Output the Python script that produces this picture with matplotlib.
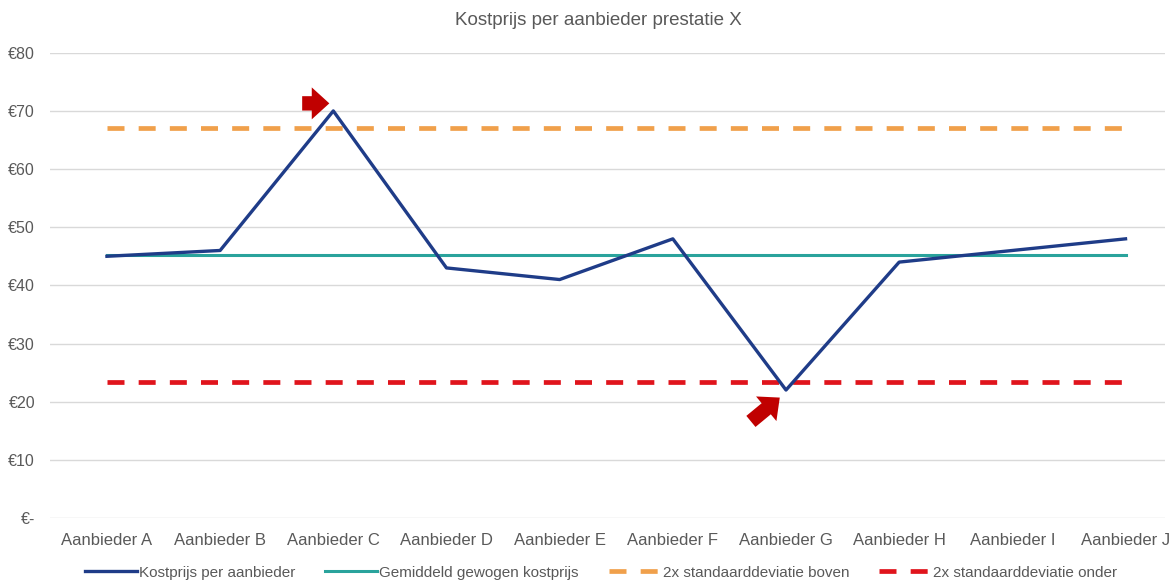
import numpy as np
import matplotlib.pyplot as plt
from matplotlib.ticker import FuncFormatter

plt.rcParams['font.family'] = ['Liberation Sans', 'DejaVu Sans']

aanbieders = ['Aanbieder A', 'Aanbieder B', 'Aanbieder C', 'Aanbieder D', 'Aanbieder E',
              'Aanbieder F', 'Aanbieder G', 'Aanbieder H', 'Aanbieder I', 'Aanbieder J']
kostprijs = [45, 46, 70, 43, 41, 48, 22, 44, 46, 48]
gemiddeld = 45.3
sd_boven = 67.0
sd_onder = 23.3

x = np.arange(len(aanbieders))

fig, ax = plt.subplots(figsize=(11.71, 5.8), dpi=100)
fig.subplots_adjust(left=0.043, right=0.995, top=0.909, bottom=0.107)

ax.plot(x, kostprijs, color='#1f3c88', lw=2.4, label='Kostprijs per aanbieder', zorder=4)
ax.plot(x, [gemiddeld] * len(x), color='#2aa39c', lw=2.2, label='Gemiddeld gewogen kostprijs', zorder=3)
ax.plot(x, [sd_boven] * len(x), color='#f0a04b', lw=3.4, ls=(0, (3.6, 3.0)),
        label='2x standaarddeviatie boven', zorder=3)
ax.plot(x, [sd_onder] * len(x), color='#e0141c', lw=3.4, ls=(0, (3.6, 3.0)),
        label='2x standaarddeviatie onder', zorder=3)

# rode pijlen bij de uitschieters
i_max = int(np.argmax(kostprijs))
i_min = int(np.argmin(kostprijs))
pijl = dict(arrowstyle='simple,head_length=0.55,head_width=1.0,tail_width=0.45',
            color='#c00000', lw=0, mutation_scale=23, shrinkA=0, shrinkB=0)
ax.annotate('', xy=(i_max - 0.035, kostprijs[i_max] + 1.3), xytext=(i_max - 0.275, kostprijs[i_max] + 1.3),
            arrowprops=pijl, zorder=5)
ax.annotate('', xy=(i_min - 0.055, kostprijs[i_min] - 1.3), xytext=(i_min - 0.31, kostprijs[i_min] - 5.4),
            arrowprops=pijl, zorder=5)

ax.set_xlim(-0.5, 9.35)
ax.set_ylim(0, 80)
ax.set_yticks(np.arange(0, 81, 10))
ax.yaxis.set_major_formatter(FuncFormatter(lambda v, p: '€-' if v == 0 else f'€{v:.0f}'))
ax.set_xticks(x)
ax.set_xticklabels(aanbieders)
ax.tick_params(length=0, labelsize=12, colors='#595959')
ax.tick_params(axis='x', pad=11)
ax.tick_params(axis='y', labelsize=11.5, pad=11)
ax.grid(axis='y', color='#d9d9d9', lw=1)
ax.set_axisbelow(True)
for key in ['left', 'right', 'top', 'bottom']:
    ax.spines[key].set_visible(False)

fig.text(0.511, 0.965, 'Kostprijs per aanbieder prestatie X', fontsize=13.5, color='#595959',
         ha='center', va='center')

ax.legend(loc='upper center', bbox_to_anchor=(0.494, -0.073), ncol=4, frameon=False,
          fontsize=11, handlelength=3.4, handletextpad=0.15, columnspacing=1.95,
          labelcolor='#595959')

plt.savefig('out.png', dpi=100)
